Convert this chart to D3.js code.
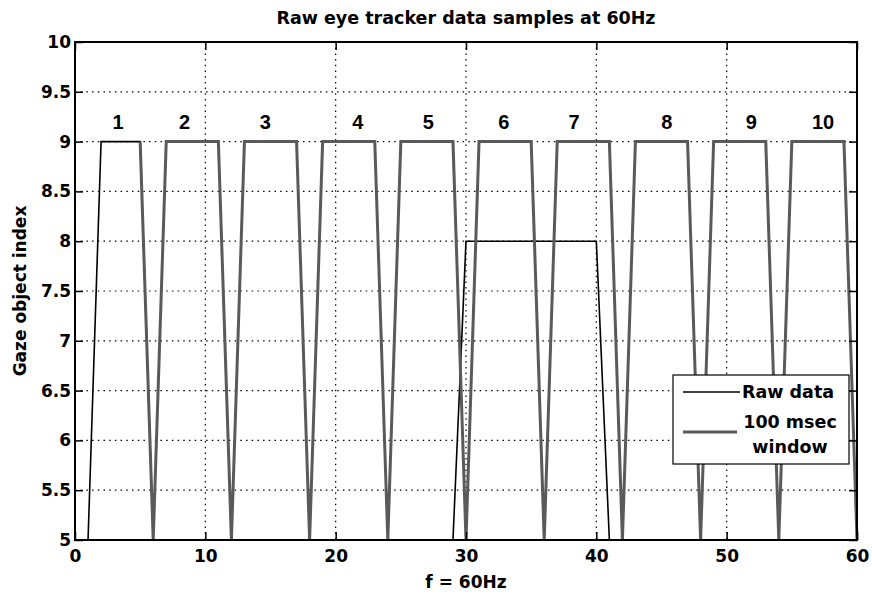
<!DOCTYPE html>
<html><head><meta charset="utf-8">
<script src="https://cdn.jsdelivr.net/npm/d3@7/dist/d3.min.js"></script>
<style>
body{margin:0;background:#fff}
text{font-family:"DejaVu Sans",sans-serif;font-weight:bold;fill:#000}
</style>
</head><body>
<svg id="chart" width="872" height="598"></svg>
<script>
// ---------- data ----------
const rawX = [0,1,2,3,4,5,6,7,8,9,10,11,12,13,14,15,16,17,18,19,20,21,22,23,24,25,26,27,28,29,30,31,32,33,34,35,36,37,38,39,40,41,42,43,44,45,46,47,48,49,50,51,52,53,54,55,56,57,58,59,60];
const rawY = [5,5,9,9,9,9,5,5,5,5, 5,5,5,5,5,5,5,5,5,5, 5,5,5,5,5,5,5,5,5,5, 8,8,8,8,8,8,8,8,8,8, 8,5,5,5,5,5,5,5,5,5, 5,5,5,5,5,5,5,5,5,5, 5];
const windowX = [5,6,7,8,9,10,11,12,13,14,15,16,17,18,19,20,21,22,23,24,25,26,27,28,29,30,31,32,33,34,35,36,37,38,39,40,41,42,43,44,45,46,47,48,49,50,51,52,53,54,55,56,57,58,59,60];
const windowY = [9,5,9,9,9,9,9,5,9,9,9,9,9,5,9,9,9,9,9,5,9,9,9,9,9,5,9,9,9,9,9,5,9,9,9,9,9,5,9,9,9,9,9,5,9,9,9,9,9,5,9,9,9,9,9,5];
const windowNames = ["1","2","3","4","5","6","7","8","9","10"];
const windowLabelX = [3.3, 8.4, 14.6, 21.7, 27.1, 32.9, 38.3, 45.4, 51.9, 57.4];
const windowLabelY = 9.13;
const xTicks = [0,10,20,30,40,50,60];
const yTicks = [5,5.5,6,6.5,7,7.5,8,8.5,9,9.5,10];
const seriesNames = ["Raw data","100 msec window"];
const titleText = "Raw eye tracker data samples at 60Hz";
const xLabel = "f = 60Hz";
const yLabel = "Gaze object index";

// ---------- layout ----------
const L = 75, R = 857, T = 42, B = 540;
const svg = d3.select("#chart");
const x = d3.scaleLinear().domain([0,60]).range([L,R]);
const y = d3.scaleLinear().domain([5,10]).range([B,T]);

// grid
const grid = svg.append("g").attr("stroke","#000").attr("stroke-width",1.2)
  .attr("stroke-dasharray","1.5,4.2");
grid.selectAll(".vg").data(xTicks.filter(d=>d>0&&d<60)).join("line")
  .attr("x1",d=>x(d)).attr("x2",d=>x(d)).attr("y1",T).attr("y2",B);
grid.selectAll(".hg").data(yTicks.filter(d=>d>5&&d<10)).join("line")
  .attr("y1",d=>y(d)).attr("y2",d=>y(d)).attr("x1",L).attr("x2",R);

// series
const line = d3.line().x(d=>x(d[0])).y(d=>y(d[1]));
svg.append("path").datum(rawX.map((v,i)=>[v,rawY[i]]))
  .attr("d",line).attr("fill","none").attr("stroke","#000").attr("stroke-width",1.6)
  .attr("stroke-linejoin","miter");
svg.append("path").datum(windowX.map((v,i)=>[v,windowY[i]]))
  .attr("d",line).attr("fill","none").attr("stroke","#5a5a5a").attr("stroke-width",3)
  .attr("stroke-linejoin","miter");

// axes
function styleAxis(g){
  g.select(".domain").remove();
  g.selectAll(".tick line").attr("stroke","#000").attr("stroke-width",1.5);
  g.selectAll("text").attr("font-size",17).attr("font-family","DejaVu Sans").attr("font-weight","bold");
}
svg.append("g").attr("transform",`translate(0,${B})`)
  .call(d3.axisBottom(x).tickValues(xTicks).tickSize(-8).tickPadding(10).tickFormat(d3.format("d")))
  .call(styleAxis);
svg.append("g").attr("transform",`translate(${L},0)`)
  .call(d3.axisLeft(y).tickValues(yTicks).tickSize(-8).tickPadding(4).tickFormat(d=>String(d)))
  .call(styleAxis);
svg.append("g").attr("transform",`translate(0,${T})`)
  .call(d3.axisTop(x).tickValues(xTicks).tickSize(-8).tickFormat(""))
  .call(styleAxis);
svg.append("g").attr("transform",`translate(${R},0)`)
  .call(d3.axisRight(y).tickValues(yTicks).tickSize(-8).tickFormat(""))
  .call(styleAxis);
svg.append("rect").attr("x",L).attr("y",T).attr("width",R-L).attr("height",B-T)
  .attr("fill","none").attr("stroke","#000").attr("stroke-width",2);

// window labels
svg.selectAll(".wl").data(windowNames).join("text")
  .attr("x",(d,i)=>x(windowLabelX[i])).attr("y",y(windowLabelY))
  .attr("text-anchor","middle").attr("font-size",20)
  .style("font-family","'Liberation Sans',Arial,sans-serif").text(d=>d);

// title and axis labels
svg.append("text").attr("x",(L+R)/2).attr("y",24).attr("text-anchor","middle")
  .attr("font-size",17.5).text(titleText);
svg.append("text").attr("x",(L+R)/2).attr("y",588).attr("text-anchor","middle")
  .attr("font-size",17).text(xLabel);
svg.append("text").attr("transform",`translate(26,${(T+B)/2}) rotate(-90)`)
  .attr("text-anchor","middle").attr("font-size",17).text(yLabel);

// legend
const lg = svg.append("g");
lg.append("rect").attr("x",673).attr("y",375).attr("width",176).attr("height",89)
  .attr("fill","#fff").attr("stroke","#000").attr("stroke-width",1.2);
lg.append("line").attr("x1",683).attr("x2",740).attr("y1",392).attr("y2",392)
  .attr("stroke","#000").attr("stroke-width",1.6);
lg.append("text").attr("x",742).attr("y",398).attr("font-size",17.5).text(seriesNames[0]);
lg.append("line").attr("x1",683).attr("x2",737).attr("y1",432).attr("y2",432)
  .attr("stroke","#5a5a5a").attr("stroke-width",3);
const parts = seriesNames[1].split(" ");
lg.append("text").attr("x",790).attr("y",428).attr("text-anchor","middle").attr("font-size",17.5)
  .text(parts[0]+" "+parts[1]);
lg.append("text").attr("x",790).attr("y",453).attr("text-anchor","middle").attr("font-size",17.5)
  .text(parts[2]);
</script>
</body></html>
